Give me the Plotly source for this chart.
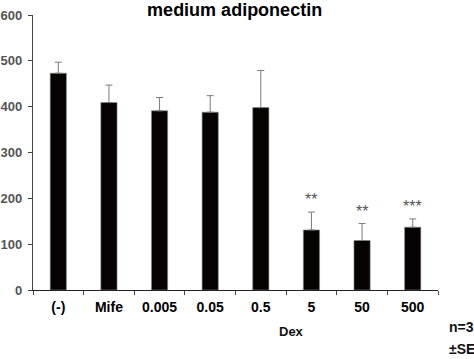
import plotly.graph_objects as go

categories = ["(-)", "Mife", "0.005", "0.05", "0.5", "5", "50", "500"]
means = [473, 409, 391, 388, 398, 131, 108, 137]
se = [24, 38, 29, 36, 81, 39, 37, 18]
stars = ["", "", "", "", "", "**", "**", "***"]
y_ticks = [0, 100, 200, 300, 400, 500, 600]

FONT = "Liberation Sans, Arial, sans-serif"

fig = go.Figure()
fig.add_trace(go.Bar(
    x=categories, y=means, width=0.32,
    marker=dict(color="#070303", line=dict(color="#8a8a8a", width=0.6)),
    error_y=dict(type="data", symmetric=False, array=se, arrayminus=[0]*len(se),
                 color="#7a7a7a", thickness=1, width=3.5),
    hoverinfo="skip",
))

for i, (m, e, s) in enumerate(zip(means, se, stars)):
    if s:
        fig.add_annotation(x=i, y=m + e, text=s, showarrow=False, yanchor="bottom",
                           yshift=2, font=dict(family=FONT, size=16, color="#555555"))

fig.add_annotation(x=0.639, xref="paper", y=-0.185, yref="paper", text="<b>Dex</b>",
                   showarrow=False, font=dict(family=FONT, size=13, color="#111"))
fig.add_annotation(x=1.021, xref="paper", y=-0.171, yref="paper", text="<b>n=3</b>",
                   showarrow=False, xanchor="left", font=dict(family=FONT, size=14, color="#111"))
fig.add_annotation(x=1.021, xref="paper", y=-0.25, yref="paper", text="<b>±SE</b>",
                   showarrow=False, xanchor="left", font=dict(family=FONT, size=14, color="#111"))

fig.update_layout(
    width=474, height=359,
    margin=dict(l=33, r=36, t=15, b=69),
    plot_bgcolor="white", paper_bgcolor="white",
    showlegend=False,
    title=dict(text="<b>medium adiponectin</b>", x=0.495, xanchor="center", y=0.99, yanchor="top",
               font=dict(family=FONT, size=18, color="#000")),
    xaxis=dict(type="category", categoryorder="array", categoryarray=categories,
               range=[-0.5, len(categories) - 0.5], automargin=False,
               showline=True, linecolor="#222", linewidth=1.2,
               ticks="outside", tickson="boundaries", ticklen=4, tickcolor="#444",
               tickfont=dict(family=FONT, size=14, color="#000"),
               tickvals=categories, ticktext=["<b>%s</b>" % c for c in categories],
               tickangle=0, showgrid=False, ticklabelstandoff=4),
    yaxis=dict(range=[0, 600], tickvals=y_ticks, ticktext=["<b>%d</b>" % v for v in y_ticks],
               automargin=False, showline=True, linecolor="#444", linewidth=1.2,
               ticks="outside", ticklen=4, tickcolor="#444", showgrid=False, zeroline=False,
               tickfont=dict(family=FONT, size=13, color="#555"), ticklabelstandoff=3),
    font=dict(family=FONT),
)

fig.write_html("out.html", config={"displayModeBar": False},
               post_script="document.body.style.margin='0';document.body.style.overflow='hidden';")
